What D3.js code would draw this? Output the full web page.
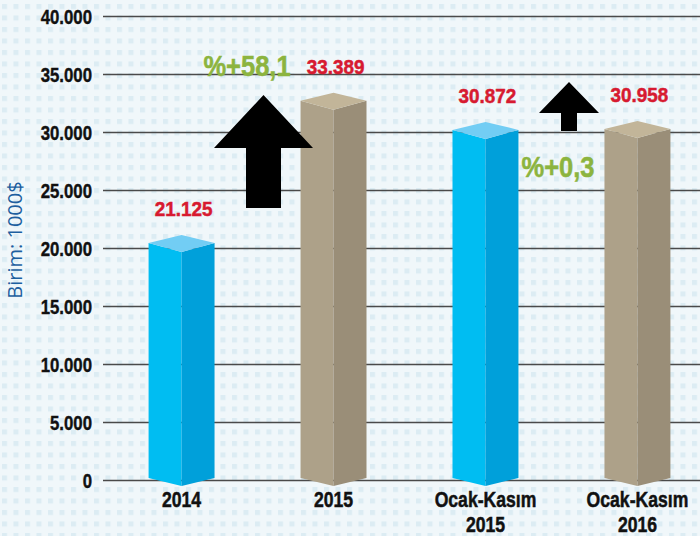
<!DOCTYPE html>
<html>
<head>
<meta charset="utf-8">
<script src="https://cdn.jsdelivr.net/npm/d3@7"></script>
<style>
  body { margin: 0; background: #f0f7fa; }
  svg text { font-family: "Liberation Sans", Arial, sans-serif; }
</style>
</head>
<body>
<div id="chart"></div>
<script>
// Data
const categories = ["2014", "2015", "Ocak-Kasım\n2015", "Ocak-Kasım\n2016"];
const values = [21125, 33389, 30872, 30958];
const valueLabels = ["21.125", "33.389", "30.872", "30.958"];
const yTicks = [0, 5000, 10000, 15000, 20000, 25000, 30000, 35000, 40000];
const changeLabels = ["%+58,1", "%+0,3"];

const width = 700, height = 536;
const margin = {top: 16, right: 0, bottom: 56, left: 103};

const svg = d3.select("#chart")
    .append("svg")
    .attr("width", width)
    .attr("height", height);

// dotted background
const defs = svg.append("defs");
const pat = defs.append("pattern")
    .attr("id", "dots")
    .attr("width", 11.5)
    .attr("height", 11.5)
    .attr("patternUnits", "userSpaceOnUse")
    .attr("x", 1).attr("y", 3);
pat.append("rect").attr("width", 11.5).attr("height", 11.5).attr("fill", "#f0f7fa");
pat.append("rect").attr("x", 1).attr("y", 1).attr("width", 5).attr("height", 5).attr("fill", "#dcecf3");
svg.append("rect").attr("width", width).attr("height", height).attr("fill", "url(#dots)");

const yScale = d3.scaleLinear()
    .domain([0, 40000])
    .range([height - margin.bottom, margin.top]);

const xScale = d3.scaleBand()
    .domain(categories)
    .range([103, 716])
    .paddingInner(0.566)
    .paddingOuter(0.3);

// put text at (x,y), squeezed horizontally so it looks condensed
function placeText(sel, x, y, k) {
    sel.attr("transform", (d, i) => `translate(${x(d, i)},${y(d, i)}) scale(${k},1)`);
}

// gridlines + tick labels
const yAxis = d3.axisLeft(yScale)
    .tickValues(yTicks)
    .tickSize(-(width - margin.left))
    .tickPadding(11)
    .tickFormat(d => d3.format(",")(d).replace(/,/g, "."));

const gAxis = svg.append("g")
    .attr("transform", `translate(${margin.left},0)`)
    .call(yAxis);
gAxis.select(".domain").remove();
gAxis.selectAll(".tick line").attr("stroke", "#4a4a4a").attr("stroke-width", 1.5);
gAxis.selectAll(".tick text")
    .attr("x", null)
    .attr("transform", "translate(-11,0) scale(0.8,1)")
    .attr("font-size", 21)
    .attr("font-weight", "bold")
    .attr("fill", "#111")
    .attr("stroke", "#111")
    .attr("stroke-width", 0.4)
    .attr("dy", "0.36em");

// y title
svg.append("text")
    .attr("transform", `translate(22,240) rotate(-90)`)
    .attr("text-anchor", "middle")
    .attr("font-size", 20)
    .attr("fill", "#1d5f9f")
    .style("font-family", "'Open Sans', sans-serif")
    .text("Birim: 1000$");

// 3d bars
const palettes = [
    {front: "#00bdf2", side: "#00a0da", top: "#72cdf4"},
    {front: "#ada189", side: "#9a8e78", top: "#c2b599"}
];

const half = xScale.bandwidth() / 2;
const bars = svg.append("g").selectAll("g")
    .data(values)
    .join("g");

bars.each(function(v, i) {
    const g = d3.select(this);
    const c = categories[i];
    const cx = xScale(c) + half;
    const x0 = xScale(c), x1 = xScale(c) + xScale.bandwidth();
    const yt = yScale(v);
    const y0 = yScale(0);
    const pal = palettes[i % 2];
    g.append("path")
        .attr("d", `M${x0},${yt + 8} L${cx},${yt + 17} L${cx},${y0 + 6} L${x0},${y0 - 2} Z`)
        .attr("fill", pal.front);
    g.append("path")
        .attr("d", `M${cx},${yt + 17} L${x1},${yt + 8} L${x1},${y0 - 2} L${cx},${y0 + 6} Z`)
        .attr("fill", pal.side);
    g.append("path")
        .attr("d", `M${x0},${yt + 8} L${cx},${yt} L${x1},${yt + 8} L${cx},${yt + 17} Z`)
        .attr("fill", pal.top);
});

// value labels
svg.append("g").selectAll("text")
    .data(values)
    .join("text")
    .call(placeText, (d, i) => xScale(categories[i]) + half + 2, d => yScale(d) - 19, 0.9)
    .attr("text-anchor", "middle")
    .attr("font-size", 21)
    .attr("font-weight", "bold")
    .attr("fill", "#d71a30")
    .attr("stroke", "#d71a30")
    .attr("stroke-width", 0.5)
    .text((d, i) => valueLabels[i]);

// category labels
const catText = svg.append("g").selectAll("text")
    .data(categories)
    .join("text")
    .call(placeText, d => xScale(d) + half, () => 507, 0.8)
    .attr("text-anchor", "middle")
    .attr("font-size", 22)
    .attr("font-weight", "bold")
    .attr("fill", "#111")
    .attr("stroke", "#111")
    .attr("stroke-width", 0.5);
catText.selectAll("tspan")
    .data(d => d.split("\n"))
    .join("tspan")
    .attr("x", 0)
    .attr("dy", (d, i) => i === 0 ? 0 : 25)
    .text(d => d);

// arrows
function arrow(tipX, tipY, wingHalf, wingY, shaftHalf, bottomY) {
    return `M${tipX},${tipY} L${tipX + wingHalf},${wingY} L${tipX + shaftHalf},${wingY}
            L${tipX + shaftHalf},${bottomY} L${tipX - shaftHalf},${bottomY} L${tipX - shaftHalf},${wingY}
            L${tipX - wingHalf},${wingY} Z`;
}
svg.append("path").attr("d", arrow(263.5, 95, 49.5, 148, 17.5, 208)).attr("fill", "#000");
svg.append("path").attr("d", arrow(569, 82, 30, 113, 8, 131)).attr("fill", "#000");

// change labels
svg.append("g").selectAll("text")
    .data(changeLabels)
    .join("text")
    .call(placeText, (d, i) => [247, 558][i], (d, i) => [76, 177][i], 0.88)
    .attr("text-anchor", "middle")
    .attr("font-size", 29)
    .attr("font-weight", "bold")
    .attr("fill", "#8cb43f")
    .attr("stroke", "#8cb43f")
    .attr("stroke-width", 0.5)
    .text(d => d);
</script>
</body>
</html>
